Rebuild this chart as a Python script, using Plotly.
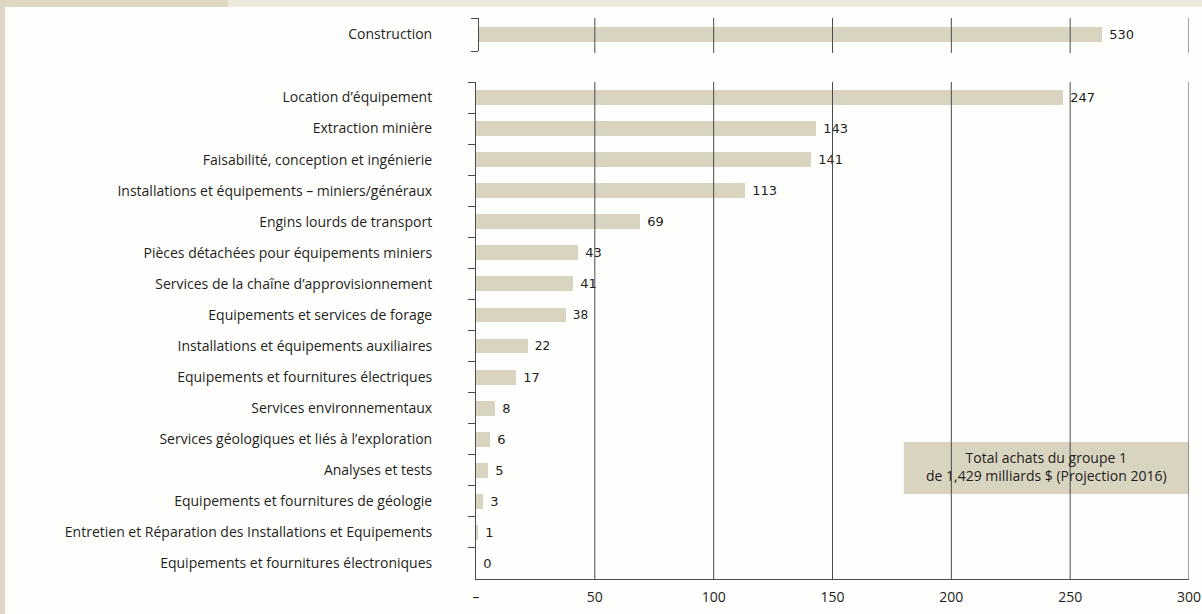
import plotly.graph_objects as go

# ---- data ----
top_category = ["Construction"]
top_value = [530]

categories = [
    "Location d’équipement",
    "Extraction minière",
    "Faisabilité, conception et ingénierie",
    "Installations et équipements – miniers/généraux",
    "Engins lourds de transport",
    "Pièces détachées pour équipements miniers",
    "Services de la chaîne d’approvisionnement",
    "Equipements et services de forage",
    "Installations et équipements auxiliaires",
    "Equipements et fournitures électriques",
    "Services environnementaux",
    "Services géologiques et liés à l’exploration",
    "Analyses et tests",
    "Equipements et fournitures de géologie",
    "Entretien et Réparation des Installations et Equipements",
    "Equipements et fournitures électroniques",
]
values = [247, 143, 141, 113, 69, 43, 41, 38, 22, 17, 8, 6, 5, 3, 1, 0]

tick_vals = [0, 50, 100, 150, 200, 250, 300]
tick_text = ["–", "50", "100", "150", "200", "250", "300"]

note_text = "Total achats du groupe 1<br>de 1,429 milliards $ (Projection 2016)"

# ---- style ----
W, H = 1202, 614
L, R, T, B = 476, 13, 18, 35
PW, PH = W - L - R, H - T - B
BAR = "#d9d4bf"
GRID = "#4a4a4a"
TXT = "#1e1e1e"
LABEL_FONT = "Open Sans"
LABEL_SIZE = 14
VAL_FONT = "DejaVu Sans"


def px_x(p):
    return (p - L) / PW


def px_y(p):
    return (H - B - p) / PH


LOW_TOP = px_y(82)

fig = go.Figure()

fig.add_trace(go.Bar(
    y=categories, x=values, orientation="h",
    marker=dict(color=BAR, line=dict(width=0)), width=0.48,
    text=[str(v) for v in values],
    texttemplate="\u00a0%{text}", textposition="outside",
    textfont=dict(family=VAL_FONT, size=13, color=TXT),
    cliponaxis=False, xaxis="x", yaxis="y", hoverinfo="skip",
))
fig.add_trace(go.Bar(
    y=top_category, x=top_value, orientation="h",
    marker=dict(color=BAR, line=dict(width=0)), width=0.46,
    text=[str(v) for v in top_value],
    texttemplate="\u00a0%{text}", textposition="outside",
    textfont=dict(family=VAL_FONT, size=13, color=TXT),
    cliponaxis=False, xaxis="x2", yaxis="y2", hoverinfo="skip",
))

shapes = []
# decorative page frame
shapes.append(dict(type="rect", xref="paper", yref="paper",
                   x0=px_x(0), x1=px_x(228), y0=px_y(7), y1=px_y(0),
                   fillcolor="#ddd7c3", line=dict(width=0), layer="below"))
shapes.append(dict(type="rect", xref="paper", yref="paper",
                   x0=px_x(228), x1=px_x(W), y0=px_y(7), y1=px_y(0),
                   fillcolor="#ece9df", line=dict(width=0), layer="below"))
shapes.append(dict(type="rect", xref="paper", yref="paper",
                   x0=px_x(0), x1=px_x(5), y0=px_y(H), y1=px_y(0),
                   fillcolor="#ddd7c3", line=dict(width=0), layer="below"))
# total box
shapes.append(dict(type="rect", xref="x", yref="paper",
                   x0=180, x1=300, y0=px_y(494), y1=px_y(442),
                   fillcolor=BAR, line=dict(width=0), layer="above"))
# grid lines (drawn over bars)
for v in tick_vals[1:]:
    shapes.append(dict(type="line", xref="x", yref="y domain",
                       x0=v, x1=v, y0=0, y1=1,
                       line=dict(color=GRID, width=1), layer="above"))
    shapes.append(dict(type="line", xref="x", yref="y2 domain",
                       x0=v, x1=v, y0=-0.06, y1=1,
                       line=dict(color=GRID, width=1), layer="above"))

fig.update_layout(
    width=W, height=H,
    margin=dict(l=L, r=R, t=T, b=B, autoexpand=False),
    paper_bgcolor="#fefefc", plot_bgcolor="rgba(0,0,0,0)",
    showlegend=False, bargap=0,
    font=dict(family=LABEL_FONT, size=LABEL_SIZE, color=TXT),
    shapes=shapes,
    xaxis=dict(
        domain=[0, 1], range=[0, 300], tickvals=tick_vals, ticktext=tick_text,
        showgrid=False, zeroline=False, showline=True, linecolor=GRID,
        linewidth=1, ticks="", tickfont=dict(family=LABEL_FONT, size=LABEL_SIZE, color=TXT),
        ticklabelstandoff=5, anchor="y", fixedrange=True, automargin=False,
    ),
    yaxis=dict(
        domain=[0, LOW_TOP], type="category", autorange="reversed",
        showgrid=False, zeroline=False, showline=True, linecolor=GRID,
        linewidth=1, ticks="outside", ticklen=7, tickcolor=GRID,
        tickson="boundaries", ticklabelstandoff=40, automargin=False,
        tickfont=dict(family=LABEL_FONT, size=LABEL_SIZE, color=TXT), anchor="x",
    ),
    xaxis2=dict(
        domain=[px_x(479), 1], range=[0, 604], visible=False, anchor="y2",
        automargin=False,
    ),
    yaxis2=dict(
        domain=[px_y(51), 1], type="category",
        showgrid=False, zeroline=False, showline=True, linecolor=GRID,
        linewidth=1, ticks="outside", ticklen=7, tickcolor=GRID,
        tickson="boundaries", ticklabelstandoff=43, automargin=False,
        tickfont=dict(family=LABEL_FONT, size=LABEL_SIZE, color=TXT), anchor="x2",
    ),
    annotations=[dict(
        xref="x", yref="paper", x=240, y=px_y(467), yanchor="middle",
        xanchor="center", text=note_text,
        showarrow=False, align="center",
        font=dict(family=LABEL_FONT, size=LABEL_SIZE, color=TXT),
    )],
)

fig.write_html(
    "out.html",
    config={"displayModeBar": False},
    post_script="document.body.style.margin='0';document.body.style.overflow='hidden';",
)
